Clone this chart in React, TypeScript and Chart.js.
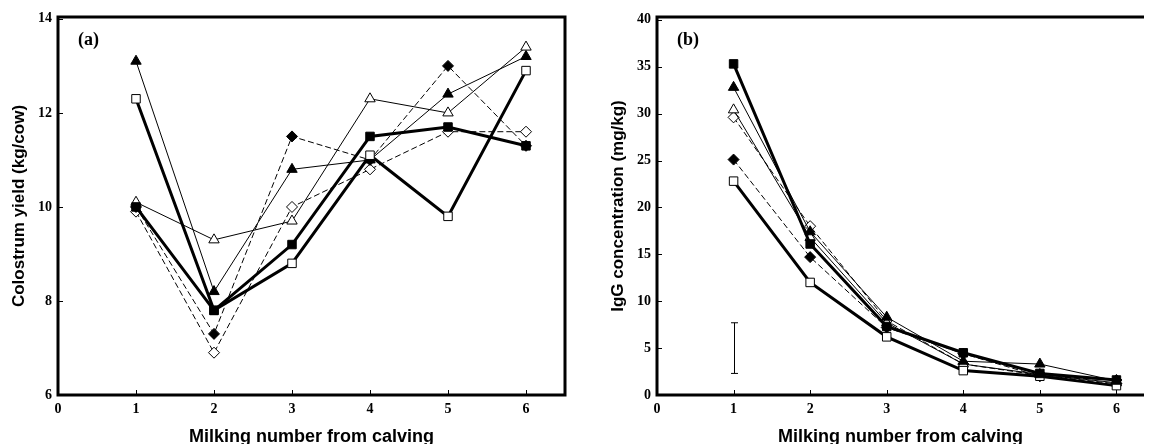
import React, { useEffect, useRef } from "react";
import { Chart, registerables } from "chart.js";

Chart.register(...registerables);

// ---------- data ----------
const milkings = [1, 2, 3, 4, 5, 6];
const xTickValues = [0, 1, 2, 3, 4, 5, 6];

// Panel (a): colostrum yield (kg/cow)
const yieldFilledSquare = [10.0, 7.8, 9.2, 11.5, 11.7, 11.3];
const yieldOpenSquare = [12.3, 7.8, 8.8, 11.1, 9.8, 12.9];
const yieldFilledTriangle = [13.1, 8.2, 10.8, 11.0, 12.4, 13.2];
const yieldOpenTriangle = [10.1, 9.3, 9.7, 12.3, 12.0, 13.4];
const yieldFilledDiamond = [10.0, 7.3, 11.5, 11.0, 13.0, 11.3];
const yieldOpenDiamond = [9.9, 6.9, 10.0, 10.8, 11.6, 11.6];
const yTicksA = [6, 8, 10, 12, 14];

// Panel (b): IgG concentration (mg/kg)
const iggFilledSquare = [35.3, 16.1, 7.3, 4.5, 2.3, 1.6];
const iggOpenSquare = [22.8, 12.0, 6.2, 2.6, 2.0, 1.0];
const iggFilledTriangle = [32.8, 17.4, 8.3, 3.6, 3.3, 1.5];
const iggOpenTriangle = [30.4, 16.8, 7.7, 3.3, 2.2, 1.3];
const iggFilledDiamond = [25.1, 14.7, 7.2, 4.4, 2.0, 1.6];
const iggOpenDiamond = [29.6, 18.0, 7.9, 3.3, 2.1, 1.2];
const yTicksB = [0, 5, 10, 15, 20, 25, 30, 35, 40];

// error bar shown in panel (b)
const errorBarX = [1];
const errorBarLow = [2.3];
const errorBarHigh = [7.7];

// ---------- styles ----------
type Style = { marker: string; filled: boolean; width: number; dash: number[]; radius: number };
const seriesStyles: Style[] = [
  { marker: "rect", filled: true, width: 3, dash: [], radius: 6 },
  { marker: "rect", filled: false, width: 3, dash: [], radius: 6 },
  { marker: "triangle", filled: true, width: 1, dash: [], radius: 6 },
  { marker: "triangle", filled: false, width: 1, dash: [], radius: 6 },
  { marker: "rectRot", filled: true, width: 1, dash: [6, 3], radius: 5.5 },
  { marker: "rectRot", filled: false, width: 1, dash: [6, 3], radius: 5.5 },
];

function makeDatasets(series: number[][]) {
  return series.map((vals, i) => {
    const s = seriesStyles[i];
    return {
      data: milkings.map((m, j) => ({ x: m, y: vals[j] })),
      borderColor: "#000",
      borderWidth: s.width,
      borderDash: s.dash,
      tension: 0,
      fill: false,
      pointStyle: s.marker,
      pointRadius: s.radius,
      pointBorderWidth: 1,
      pointBorderColor: "#000",
      pointBackgroundColor: s.filled ? "#000" : "#fff",
      order: i,
    };
  });
}

const tickFont = { family: "'Liberation Serif', 'Times New Roman', serif", size: 14, weight: "bold" as const };
const xTitleFont = { family: "'Liberation Sans', Arial, sans-serif", size: 18, weight: "bold" as const };
const yTitleFont = { family: "'Liberation Sans', Arial, sans-serif", size: 17, weight: "bold" as const };

const framePlugin = {
  id: "frame",
  afterDraw(chart: any, _args: any, opts: any) {
    const { ctx, chartArea } = chart;
    const { left, right, top, bottom } = chartArea;
    const xs = chart.scales.x;
    const ys = chart.scales.y;
    ctx.save();
    ctx.strokeStyle = "#000";
    ctx.fillStyle = "#000";
    ctx.setLineDash([]);
    // inner tick marks
    ctx.lineWidth = 1;
    ctx.beginPath();
    for (const v of xTickValues) {
      if (v === 0) continue;
      const px = Math.round(xs.getPixelForValue(v)) + 0.5;
      ctx.moveTo(px, bottom);
      ctx.lineTo(px, bottom - 5);
    }
    for (const v of opts.yTicks) {
      const py = Math.round(ys.getPixelForValue(v)) + 0.5;
      ctx.moveTo(left, py);
      ctx.lineTo(left + 5, py);
    }
    ctx.stroke();
    // frame
    ctx.lineWidth = 3;
    ctx.beginPath();
    ctx.moveTo(left, top);
    ctx.lineTo(left, bottom);
    ctx.lineTo(right, bottom);
    ctx.moveTo(left - 1.5, top);
    ctx.lineTo(right, top);
    if (opts.rightBorder) {
      ctx.moveTo(right, top - 1.5);
      ctx.lineTo(right, bottom + 1.5);
    }
    ctx.stroke();
    // error bar
    if (opts.errorBar) {
      ctx.lineWidth = 1;
      ctx.beginPath();
      errorBarX.forEach((xv, i) => {
        const px = Math.round(xs.getPixelForValue(xv)) + 0.5;
        const pLo = ys.getPixelForValue(errorBarLow[i]);
        const pHi = ys.getPixelForValue(errorBarHigh[i]);
        ctx.moveTo(px, pLo);
        ctx.lineTo(px, pHi);
        ctx.moveTo(px - 3.5, pLo);
        ctx.lineTo(px + 3.5, pLo);
        ctx.moveTo(px - 3.5, pHi);
        ctx.lineTo(px + 3.5, pHi);
      });
      ctx.stroke();
    }
    // panel label
    ctx.font = "bold 18px 'Liberation Serif', 'Times New Roman', serif";
    ctx.textBaseline = "middle";
    ctx.textAlign = "left";
    ctx.fillText(opts.label, left + 20, top + 23);
    ctx.restore();
  },
};

type PanelProps = {
  left: number;
  width: number;
  series: number[][];
  yMin: number;
  yMax: number;
  xMax: number;
  yTicks: number[];
  yTitle: string;
  label: string;
  rightPad: number;
  rightBorder: boolean;
  errorBar: boolean;
};

function Panel(p: PanelProps) {
  const ref = useRef<HTMLCanvasElement>(null);
  useEffect(() => {
    const chart = new Chart(ref.current as HTMLCanvasElement, {
      type: "line",
      data: { datasets: makeDatasets(p.series) as any },
      options: {
        animation: false,
        responsive: true,
        maintainAspectRatio: false,
        layout: { padding: { top: 17, right: p.rightPad, left: 0, bottom: 0 } },
        plugins: {
          legend: { display: false },
          tooltip: { enabled: false },
          frame: { yTicks: p.yTicks, label: p.label, rightBorder: p.rightBorder, errorBar: p.errorBar },
        } as any,
        scales: {
          x: {
            type: "linear",
            min: 0,
            max: p.xMax,
            grid: { display: false, drawTicks: false },
            border: { display: false },
            afterBuildTicks: (s: any) => {
              s.ticks = xTickValues.map((v) => ({ value: v }));
            },
            afterFit: (s: any) => {
              s.height = 49;
            },
            ticks: { color: "#000", font: tickFont, padding: 6, maxRotation: 0, autoSkip: false },
            title: {
              display: true,
              text: "Milking number from calving",
              color: "#000",
              font: xTitleFont,
              padding: { top: 0, bottom: -4 },
            },
          },
          y: {
            type: "linear",
            min: p.yMin,
            max: p.yMax,
            grid: { display: false, drawTicks: false },
            border: { display: false },
            afterBuildTicks: (s: any) => {
              s.ticks = p.yTicks.map((v) => ({ value: v }));
            },
            afterFit: (s: any) => {
              s.width = 58;
            },
            ticks: { color: "#000", font: tickFont, padding: 6, autoSkip: false },
            title: {
              display: true,
              text: p.yTitle,
              color: "#000",
              font: yTitleFont,
              padding: { top: 9, bottom: 0 },
            },
          },
        },
      },
      plugins: [framePlugin as any],
    });
    return () => chart.destroy();
  }, []);
  return (
    <div style={{ position: "absolute", left: p.left, top: 0, width: p.width, height: 444 }}>
      <canvas ref={ref} />
    </div>
  );
}

export default function App() {
  return (
    <div
      style={{
        position: "fixed",
        left: 0,
        top: 0,
        width: 1151,
        height: 444,
        background: "#fff",
        overflow: "hidden",
      }}
    >
      <Panel
        left={0}
        width={580}
        series={[
          yieldFilledSquare,
          yieldOpenSquare,
          yieldFilledTriangle,
          yieldOpenTriangle,
          yieldFilledDiamond,
          yieldOpenDiamond,
        ]}
        yMin={6}
        yMax={14.04}
        xMax={6.5}
        yTicks={yTicksA}
        yTitle="Colostrum yield (kg/cow)"
        label="(a)"
        rightPad={15}
        rightBorder={true}
        errorBar={false}
      />
      <Panel
        left={599}
        width={552}
        series={[
          iggFilledSquare,
          iggOpenSquare,
          iggFilledTriangle,
          iggOpenTriangle,
          iggFilledDiamond,
          iggOpenDiamond,
        ]}
        yMin={0}
        yMax={40.3}
        xMax={6.36}
        yTicks={yTicksB}
        yTitle="IgG concentration (mg/kg)"
        label="(b)"
        rightPad={0}
        rightBorder={false}
        errorBar={true}
      />
    </div>
  );
}
